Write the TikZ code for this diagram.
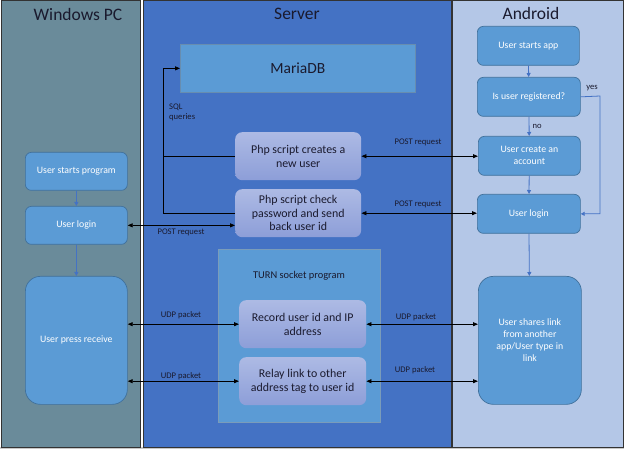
\documentclass[tikz,border=0pt]{standalone}
\usepackage{fontspec}
\setmainfont{Carlito}
\usetikzlibrary{arrows.meta,calc}
\definecolor{pccol}{HTML}{6A8B9A}
\definecolor{srvcol}{HTML}{4472C4}
\definecolor{andcol}{HTML}{B4C7E7}
\definecolor{boxfill}{HTML}{5B9BD5}
\definecolor{boxline}{HTML}{41719C}
\definecolor{phptop}{HTML}{ADBAE4}
\definecolor{phpbot}{HTML}{8D9ED8}
\definecolor{txtdark}{HTML}{1A1A2E}
\definecolor{bgcol}{HTML}{C8C8C8}
\tikzset{
  colbox/.style={draw=black!80, line width=0.9pt, anchor=north west, inner sep=0pt},
  coltitle/.style={font=\fontsize{17.5}{20}\selectfont, text=txtdark},
  flowbox/.style={draw=boxline, fill=boxfill, line width=0.7pt, rounded corners=6pt, text=white,
     font=\fontsize{9.8}{12}\selectfont, align=center, anchor=north west, inner sep=2pt},
  phpbox/.style={rounded corners=7pt, top color=phptop, bottom color=phpbot, draw=none,
     text=txtdark, font=\fontsize{11.9}{13.5}\selectfont, align=center, anchor=north west, inner sep=2pt},
  lbl/.style={font=\fontsize{8.6}{10}\selectfont, text=txtdark, inner sep=1pt},
  tip/.style={-{Triangle[length=5pt,width=4pt]}, line width=0.8pt, black},
  dtip/.style={{Triangle[length=5pt,width=4pt]}-{Triangle[length=5pt,width=4pt]}, line width=0.8pt, black},
  btip/.style={-{Triangle[length=4pt,width=4pt]}, line width=0.8pt, srvcol},
}
\begin{document}
\begin{tikzpicture}[x=1pt,y=-1pt]
\useasboundingbox (0,0) rectangle (624,449);
\fill[bgcol] (0,0) rectangle (624,449);
\fill[white] (0,0) rectangle (624,447);
% columns
\node[colbox, fill=pccol, minimum width=139pt, minimum height=446pt] (pc) at (0.5,0.5) {};
\node[colbox, fill=srvcol, minimum width=308pt, minimum height=446pt] (srv) at (142.5,0.5) {};
\node[colbox, fill=andcol, minimum width=171pt, minimum height=446pt] (and) at (452,0.5) {};
\node[coltitle] (pct) at (78,14) {Windows PC};
\node[coltitle] (srvt) at (297,14) {Server};
\node[coltitle] (andt) at (531,13) {Android};
% server
\node[draw=boxline!80, fill=boxfill, line width=0.7pt, anchor=north west, minimum width=235pt, minimum height=48pt,
      font=\fontsize{15.5}{18}\selectfont, text=txtdark] (maria) at (180,44) {MariaDB};
\node[phpbox, minimum width=126pt, minimum height=48pt] (phpc) at (235,132) {Php script creates a\\new user};
\node[phpbox, minimum width=126pt, minimum height=48pt] (phpk) at (235,189) {Php script check\\password and send\\back user id};
\node[draw=boxline!70, fill=boxfill, line width=0.7pt, anchor=north west, minimum width=162pt, minimum height=173pt] (turn) at (218,249) {};
\node[font=\fontsize{10.4}{12}\selectfont, text=txtdark] (turnt) at (299,276) {TURN socket program};
\node[phpbox, minimum width=127pt, minimum height=48pt] (rec) at (239,300) {Record user id and IP\\address};
\node[phpbox, minimum width=127pt, minimum height=48pt] (relay) at (239,357) {Relay link to other\\address tag to user id};
% windows pc
\node[flowbox, minimum width=102pt, minimum height=38pt] (pcstart) at (25,152) {User starts program};
\node[flowbox, minimum width=102pt, minimum height=38pt] (pclogin) at (25,206) {User login};
\node[flowbox, rounded corners=15pt, minimum width=102pt, minimum height=128pt] (recv) at (25,276) {User press receive};
% android
\node[flowbox, minimum width=102pt, minimum height=39pt] (astart) at (477,26) {User starts app};
\node[flowbox, minimum width=103pt, minimum height=39pt] (areg) at (477,77) {Is user registered?};
\node[flowbox, minimum width=102pt, minimum height=39pt] (acreate) at (478,136) {User create an\\account};
\node[flowbox, minimum width=103pt, minimum height=39pt] (alogin) at (477,194) {User login};
\node[flowbox, rounded corners=15pt, minimum width=103pt, minimum height=128pt] (share) at (478,276) {User shares link\\from another\\app/User type in\\link};
% blue flow arrows
\draw[btip] (pcstart) -- (pclogin);
\draw[btip] (pclogin) -- (recv);
\draw[btip] (astart) -- (areg);
\draw[btip] (areg) -- node[lbl, right, xshift=2pt] (nolbl) {no} (acreate);
\draw[btip] (acreate) -- (alogin);
\draw[btip] (alogin) -- (share);
\coordinate (yesc) at (600,96);
\draw[btip] (areg.east) -- (yesc) |- (alogin.east);
\node[lbl] (yeslbl) at (592,88) {yes};
% SQL
\coordinate (sqlx) at (163,212);
\draw[line width=0.8pt] (phpc.west) -- (phpc.west -| sqlx);
\draw[tip] (phpk.west) -- (phpk.west -| sqlx) |- (maria.west);
\node[lbl, align=left, anchor=north west] (sqllbl) at (168,103) {SQL\\queries};
% POST
\draw[dtip] (pclogin.east) -- (pclogin.east -| phpk.west);
\node[lbl] (post1) at (181,232) {POST request};
\draw[dtip] (phpc.east) -- (phpc.east -| acreate.west);
\node[lbl] (post2) at (418,142) {POST request};
\draw[dtip] (phpk.east) -- (phpk.east -| alogin.west);
\node[lbl] (post3) at (418,204) {POST request};
% UDP
\draw[dtip] (rec.west) -- (rec.west -| recv.east);
\node[lbl] (udp1) at (181,315) {UDP packet};
\draw[dtip] (relay.west) -- (relay.west -| recv.east);
\node[lbl] (udp2) at (181,376) {UDP packet};
\draw[dtip] (rec.east) -- (rec.east -| share.west);
\node[lbl] (udp3) at (416,317) {UDP packet};
\draw[dtip] (relay.east) -- (relay.east -| share.west);
\node[lbl] (udp4) at (415,370) {UDP packet};
\end{tikzpicture}
\end{document}
